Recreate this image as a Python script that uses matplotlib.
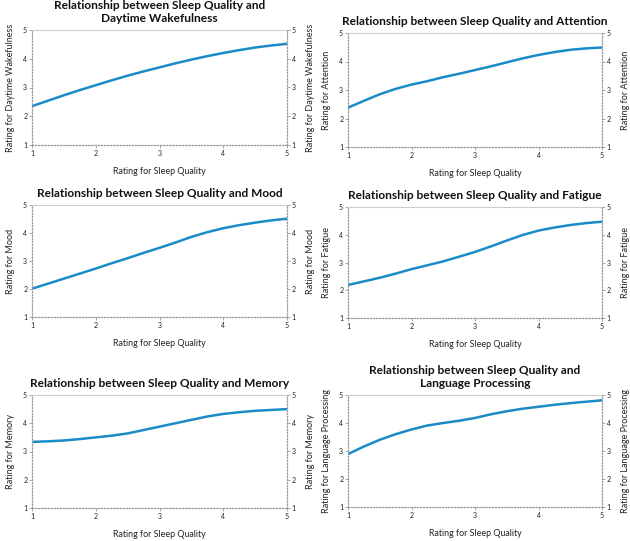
import matplotlib
matplotlib.use('Agg')
import matplotlib.pyplot as plt

plt.rcParams['font.family'] = ['Lato', 'DejaVu Sans']

sleep_quality = [1, 1.25, 1.5, 1.75, 2, 2.25, 2.5, 2.75, 3,
                 3.25, 3.5, 3.75, 4, 4.25, 4.5, 4.75, 5]

wakefulness = [2.35, 2.54, 2.73, 2.91, 3.08, 3.25, 3.41, 3.56, 3.70,
               3.84, 3.97, 4.09, 4.20, 4.30, 4.39, 4.46, 4.52]
attention = [2.38, 2.62, 2.85, 3.04, 3.19, 3.31, 3.45, 3.57, 3.70,
             3.83, 3.97, 4.11, 4.23, 4.33, 4.41, 4.46, 4.49]
mood = [2.01, 2.19, 2.37, 2.55, 2.73, 2.92, 3.10, 3.29, 3.47,
        3.66, 3.86, 4.03, 4.17, 4.28, 4.37, 4.45, 4.51]
fatigue = [2.19, 2.32, 2.45, 2.60, 2.76, 2.90, 3.04, 3.21, 3.38,
           3.58, 3.79, 3.99, 4.15, 4.26, 4.35, 4.42, 4.47]
memory = [3.34, 3.36, 3.39, 3.44, 3.50, 3.56, 3.64, 3.76, 3.88,
          4.00, 4.12, 4.24, 4.33, 4.39, 4.44, 4.47, 4.50]
language = [2.89, 3.16, 3.40, 3.60, 3.77, 3.91, 4.00, 4.08, 4.18,
            4.31, 4.42, 4.51, 4.58, 4.65, 4.71, 4.76, 4.81]

titles = ['Relationship between Sleep Quality and\nDaytime Wakefulness',
          'Relationship between Sleep Quality and Attention',
          'Relationship between Sleep Quality and Mood',
          'Relationship between Sleep Quality and Fatigue',
          'Relationship between Sleep Quality and Memory',
          'Relationship between Sleep Quality and\nLanguage Processing']
ylabels = ['Rating for Daytime Wakefulness', 'Rating for Attention',
           'Rating for Mood', 'Rating for Fatigue',
           'Rating for Memory', 'Rating for Language Processing']
series = [wakefulness, attention, mood, fatigue, memory, language]

W, H = 630, 541
# axes boxes in pixels: left, top, right, bottom
boxes = [(32, 30, 287, 145), (348, 33, 602, 147),
         (32, 205, 287, 317), (348, 207, 602, 318),
         (32, 395, 287, 508), (348, 395, 602, 507)]

fig = plt.figure(figsize=(6.3, 5.41), dpi=100)
line_color = '#1b8bc8'
grey = '#9a9a9a'
text_color = '#222222'

for box, vals, title, ylab in zip(boxes, series, titles, ylabels):
    l, t, r, b = box
    ax = fig.add_axes([l / W, 1 - b / H, (r - l) / W, (b - t) / H])
    ax.plot(sleep_quality, vals, color=line_color, lw=1.8, solid_capstyle='round')
    ax.set_xlim(1, 5)
    ax.set_ylim(1, 5)
    ax.set_xticks([1, 2, 3, 4, 5])
    ax.set_yticks([1, 2, 3, 4, 5])
    for side in ['left', 'bottom', 'right']:
        ax.spines[side].set_linestyle((0, (1, 1.5)))
        ax.spines[side].set_color(grey)
        ax.spines[side].set_linewidth(0.9)
    ax.spines['top'].set_color('#cccccc')
    ax.spines['top'].set_linewidth(0.8)
    ax.tick_params(labelsize=5, length=2, width=0.6, color=grey, pad=1.5,
                   labelcolor=text_color)
    ax.set_xlabel('Rating for Sleep Quality', fontsize=6.4, labelpad=7,
                  color=text_color)
    ax.set_ylabel(ylab, fontsize=6.5, labelpad=6, color=text_color)
    ax.set_title(title, fontsize=8.6, fontweight='bold', pad=6,
                 linespacing=1.2, color='#111111')

    ax2 = ax.twinx()
    ax2.set_ylim(1, 5)
    ax2.set_yticks([1, 2, 3, 4, 5])
    for side in ['left', 'bottom', 'right', 'top']:
        ax2.spines[side].set_visible(False)
    ax2.tick_params(labelsize=5, length=2, width=0.6, color=grey, pad=1.5,
                    labelcolor=text_color)
    ax2.set_ylabel(ylab, fontsize=6.5, labelpad=7, color=text_color)

fig.savefig('out.png', dpi=100)
